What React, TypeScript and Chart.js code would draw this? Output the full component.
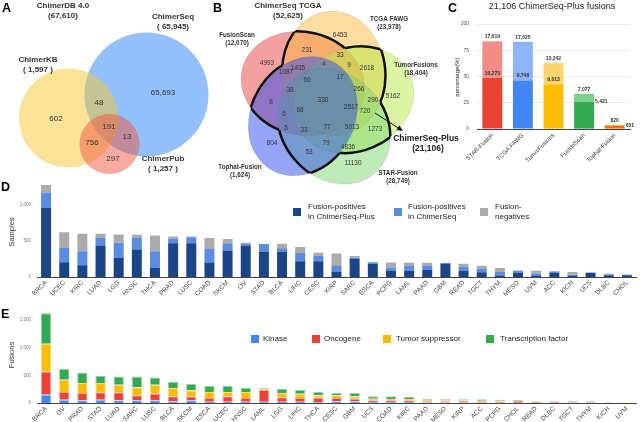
import React, { useEffect, useRef } from "react";
import { Chart, registerables } from "chart.js";

Chart.register(...registerables);

const FONT = "'Liberation Sans', Arial, Helvetica, sans-serif";
Chart.defaults.font.family = FONT;

// ================= DATA =================
const vennAUnion = ["ChimerDB 4.0", "(67,610)"];
const vennASetNames = ["ChimerSeq", "ChimerKB", "ChimerPub"];
const vennASetTotals = ["( 65,945)", "( 1,597 )", "( 1,257 )"];
const vennARegionCounts = ["65,693", "602", "48", "191", "756", "13", "297"];

const vennBUnion = ["ChimerSeq TCGA", "(52,625)"];
const vennBSetNames = ["TumorFusions", "TCGA FAWG", "FusionScan", "Tophat-Fusion", "STAR-Fusion"];
const vennBSetTotals = ["(18,404)", "(23,978)", "(12,070)", "(1,624)", "(28,749)"];
const vennBPlus = ["ChimerSeq-Plus", "(21,106)"];
const vennBRegionCounts = [
  "4993", "231", "1087", "1435", "60", "38", "8",
  "6453", "33", "4", "9", "2618", "17", "266", "5162", "290", "330", "2517",
  "68", "6", "5", "33", "804", "53",
  "720", "77", "5013", "1273", "79", "4836", "11130",
];

const cTitle = "21,106 ChimerSeq-Plus fusions";
const cPlusTotal = 21106;
const cTools = ["STAR-Fusion", "TCGA FAWG", "TumorFusions", "FusionScan", "Tophat-Fusion"];
const cDetected = [17619, 17525, 13242, 7077, 820];
const cCore = [10273, 9748, 9013, 5421, 651];

const dCancers = ["BRCA","UCEC","KIRC","LUAD","LGG","HNSC","THCA","PRAD","LUSC","COAD","SKCM","OV","STAD","BLCA","LIHC","CESC","KIRP","SARC","ESCA","PCPG","LAML","PAAD","GBM","READ","TGCT","THYM","MESO","UVM","ACC","KICH","UCS","DLBC","CHOL"];
const dPlus = [960,206,162,439,263,382,127,469,469,202,368,439,351,351,219,219,75,250,184,83,83,96,189,83,66,22,57,13,57,13,57,26,26];
const dSeqOnly = [215,198,198,105,215,162,233,66,84,188,101,22,110,48,114,75,79,22,22,49,71,58,4,57,48,48,26,35,18,18,4,13,5];
const dNegative = [106,219,241,57,114,44,219,31,13,154,62,17,0,66,84,44,175,22,4,70,43,43,4,44,44,57,9,40,4,39,0,5,4];
const dSeriesNames = [["Fusion-positives", "in ChimerSeq-Plus"], ["Fusion-positives", "in ChimerSeq"], ["Fusion-", "negatives"]];
const dTicks = [0, 500, 1000];

const eCancers = ["BRCA","OV","PRAD","STAD","LUAD","SARC","LUSC","BLCA","SKCM","ESCA","UCEC","HNSC","LAML","LGG","LIHC","THCA","CESC","GBM","UCS","COAD","KIRC","PAAD","MESO","KIRP","ACC","PCPG","CHOL","READ","DLBC","TGCT","THYM","KICH","UVM"];
const eKinase = [150,60,48,60,48,48,48,30,48,24,24,24,24,24,24,18,30,30,18,18,18,12,12,12,6,6,6,6,6,6,6,6,3];
const eOncogene = [420,138,132,132,144,90,120,90,72,66,96,66,216,78,66,78,60,48,30,30,30,18,18,24,18,18,30,18,12,6,6,0,3];
const eTumorSuppressor = [498,222,180,168,138,144,162,150,108,108,78,108,18,78,78,42,48,42,30,24,24,30,18,12,18,18,6,6,6,6,6,6,6];
const eTranscriptionFactor = [552,192,192,132,150,198,132,108,114,114,114,72,12,78,66,60,42,60,42,48,36,18,18,18,24,18,12,12,6,12,12,6,6];
const eSeriesNames = ["Kinase", "Oncogene", "Tumor suppressor", "Transcription factor"];
const eTicks = [0, 500, 1000, 1500];

// ================= LAYOUT / STYLE =================
const vennACircles = [
  { cx: 146.5, cy: 94.5, r: 62, fill: "rgba(40,130,245,0.5)" },
  { cx: 68.5, cy: 118, r: 49.5, fill: "rgba(245,200,45,0.5)" },
  { cx: 109.5, cy: 144, r: 30, fill: "rgba(241,85,65,0.5)" },
];
const vennALabelPos = [[63, 10.5], [173, 21.5], [38, 64.5], [163, 164]];
const vennARegionPos = [[163, 93], [56, 119], [99, 103], [109, 127], [92, 143], [127, 137], [113, 159]];

// five congruent ellipses, each rotated 72 degrees from the previous one
const vennBGeom = { cx: 325.3, cy: 99.8, A: 62.3, B: 51.5, d: 27.8, de: 22.9, th: 0.1 };
const vennBFill = ["rgba(185,235,75,0.5)", "rgba(251,185,65,0.5)", "rgba(235,65,65,0.5)", "rgba(45,75,235,0.5)", "rgba(125,215,115,0.5)"];
const vennBDrawOrder = [2, 1, 0, 4, 3];
const vennBSetLabelPos = [[416, 69], [389, 23.5], [237, 39], [240, 171], [398, 177]];
const vennBRegionPos = [
  [267,63],[307,50],[286,72],[298,68],[307,80],[290,90],[271,102],
  [340,35],[340,55],[324,64],[349,65],[367,68],[340,77],[359,89],[393,96],[373,100],[323,100],[351,107],
  [300,110],[284,114],[286,128],[304,130],[272,143],[309,152],
  [365,111],[327,127],[352,127],[375,129],[326,143],[348,147],[353,163],
];

const cDark = ["#EA4335", "#4285F4", "#FBBC04", "#34A853", "#FF6D01"];
const cLight = ["#F08D87", "#8CB4F6", "#FBD56E", "#7FD08F", "#FDA868"];
const dColors = ["#1C4587", "#5A8DE2", "#ABABAB"];
const eColors = ["#4285F4", "#EA4335", "#FBBC04", "#34A853"];
const eRims = ["#9CBFF9", "#F4A09A", "#FDDB7E", "#8FD3A2"];

// ================= HELPERS =================
function geomEllipses(p: any) {
  const out: any[] = [];
  for (let k = 0; k < 5; k++) {
    const dir = ((p.th + 72 * k) * Math.PI) / 180;
    const ax = dir + (p.de * Math.PI) / 180;
    out.push({ cx: p.cx + p.d * Math.cos(dir), cy: p.cy - p.d * Math.sin(dir), a: p.A, b: p.B, rot: Math.atan2(-Math.sin(ax), Math.cos(ax)) });
  }
  return out;
}
function drawText(ctx: any, s: string, x: number, y: number, size: number, o: any = {}) {
  ctx.save();
  ctx.font = `${o.bold ? "bold " : ""}${size}px ${FONT}`;
  ctx.fillStyle = o.color || "#222";
  ctx.textAlign = o.align || "center";
  ctx.textBaseline = o.baseline || "middle";
  if (o.rot) { ctx.translate(x, y); ctx.rotate(o.rot); ctx.fillText(s, 0, 0); }
  else ctx.fillText(s, x, y);
  ctx.restore();
}
const baseOpts: any = {
  animation: false, responsive: false, events: [],
  plugins: { legend: { display: false }, tooltip: { enabled: false }, title: { display: false } },
};
function vennScales(x0: number, x1: number, y0: number, y1: number) {
  return {
    x: { type: "linear", min: x0, max: x1, display: false },
    y: { type: "linear", min: y0, max: y1, reverse: true, display: false },
  };
}
function pointsDs(pos: number[][]) {
  return { data: pos.map(([x, y]) => ({ x, y })), pointRadius: 0, pointHoverRadius: 0, clip: false };
}

// ================= PANEL A =================
function makeVennA(canvas: HTMLCanvasElement) {
  const plugin = {
    id: "vennA",
    beforeDatasetsDraw(chart: any) {
      const { ctx } = chart;
      const X = chart.scales.x, Y = chart.scales.y;
      vennACircles.forEach((c) => {
        const px = X.getPixelForValue(c.cx), py = Y.getPixelForValue(c.cy);
        const r = X.getPixelForValue(c.cx + c.r) - px;
        ctx.save(); ctx.beginPath(); ctx.arc(px, py, r, 0, Math.PI * 2); ctx.fillStyle = c.fill; ctx.fill(); ctx.restore();
      });
    },
    afterDatasetsDraw(chart: any) {
      const ctx = chart.ctx;
      chart.getDatasetMeta(0).data.forEach((el: any, i: number) => drawText(ctx, vennARegionCounts[i], el.x, el.y, 8, { color: "#333" }));
      chart.getDatasetMeta(1).data.forEach((el: any, i: number) => {
        const pair = i === 0 ? vennAUnion : [vennASetNames[i - 1], vennASetTotals[i - 1]];
        drawText(ctx, pair[0], el.x, el.y - 4.8, 8, { bold: true, color: "#333" });
        drawText(ctx, pair[1], el.x, el.y + 4.8, 8, { bold: true, color: "#333" });
      });
      drawText(ctx, "A", 2, 12, 12.5, { bold: true, color: "#000", align: "left", baseline: "alphabetic" });
    },
  };
  return new Chart(canvas, {
    type: "scatter",
    data: { datasets: [pointsDs(vennARegionPos), pointsDs(vennALabelPos)] as any },
    options: { ...baseOpts, layout: { padding: 0 }, scales: vennScales(0, 215, 0, 180) as any },
    plugins: [plugin],
  });
}

// ================= PANEL B =================
function ellPath(ctx: any, chart: any, e: any) {
  const X = chart.scales.x, Y = chart.scales.y;
  const px = X.getPixelForValue(e.cx), py = Y.getPixelForValue(e.cy);
  const k = X.getPixelForValue(e.cx + 1) - px;
  const rx = e.a * k, ry = e.b * k;
  ctx.moveTo(px + rx * Math.cos(e.rot), py + rx * Math.sin(e.rot));
  ctx.ellipse(px, py, rx, ry, e.rot, 0, Math.PI * 2);
}
function makeVennB(canvas: HTMLCanvasElement) {
  const ells = geomEllipses(vennBGeom);
  const plugin = {
    id: "vennB",
    beforeDatasetsDraw(chart: any) {
      const { ctx } = chart;
      vennBDrawOrder.forEach((i) => { ctx.save(); ctx.beginPath(); ellPath(ctx, chart, ells[i]); ctx.fillStyle = vennBFill[i]; ctx.fill(); ctx.restore(); });
      vennBDrawOrder.forEach((i) => { ctx.save(); ctx.beginPath(); ellPath(ctx, chart, ells[i]); ctx.strokeStyle = "rgba(90,90,90,0.22)"; ctx.lineWidth = 0.6; ctx.stroke(); ctx.restore(); });
      // outline of the area shared by at least two tools (ChimerSeq-Plus)
      const n = ells.length;
      for (let i = 0; i < n; i++)
        for (let j = 0; j < n; j++) {
          if (i === j) continue;
          ctx.save();
          ctx.beginPath(); ellPath(ctx, chart, ells[j]); ctx.clip();
          for (let k = 0; k < n; k++) {
            if (k === i || k === j) continue;
            ctx.beginPath(); ctx.rect(-10, -10, chart.width + 20, chart.height + 20); ellPath(ctx, chart, ells[k]); ctx.clip("evenodd");
          }
          ctx.beginPath(); ellPath(ctx, chart, ells[i]);
          ctx.lineWidth = 2.5; ctx.strokeStyle = "#111"; ctx.stroke();
          ctx.restore();
        }
    },
    afterDatasetsDraw(chart: any) {
      const ctx = chart.ctx;
      const X = chart.scales.x, Y = chart.scales.y;
      chart.getDatasetMeta(0).data.forEach((el: any, i: number) => drawText(ctx, vennBRegionCounts[i], el.x, el.y, 6.5, { color: "#333" }));
      chart.getDatasetMeta(1).data.forEach((el: any, i: number) => {
        drawText(ctx, vennBSetNames[i], el.x, el.y - 4.2, 6.3, { bold: true, color: "#333" });
        drawText(ctx, vennBSetTotals[i], el.x, el.y + 4.2, 6.3, { bold: true, color: "#333" });
      });
      drawText(ctx, vennBUnion[0], X.getPixelForValue(288), Y.getPixelForValue(6), 8, { bold: true, color: "#333" });
      drawText(ctx, vennBUnion[1], X.getPixelForValue(288), Y.getPixelForValue(15.5), 8, { bold: true, color: "#333" });
      drawText(ctx, vennBPlus[0], X.getPixelForValue(426), Y.getPixelForValue(139), 8.5, { bold: true, color: "#222" });
      drawText(ctx, vennBPlus[1], X.getPixelForValue(428), Y.getPixelForValue(149), 8.5, { bold: true, color: "#222" });
      const x0 = X.getPixelForValue(375), y0 = Y.getPixelForValue(113);
      const x1 = X.getPixelForValue(403), y1 = Y.getPixelForValue(131);
      const ang = Math.atan2(y1 - y0, x1 - x0);
      ctx.save();
      ctx.strokeStyle = "#111"; ctx.fillStyle = "#111"; ctx.lineWidth = 1;
      ctx.beginPath(); ctx.moveTo(x0, y0); ctx.lineTo(x1 - 4 * Math.cos(ang), y1 - 4 * Math.sin(ang)); ctx.stroke();
      ctx.beginPath(); ctx.moveTo(x1, y1);
      ctx.lineTo(x1 - 6 * Math.cos(ang) + 2.8 * Math.sin(ang), y1 - 6 * Math.sin(ang) - 2.8 * Math.cos(ang));
      ctx.lineTo(x1 - 6 * Math.cos(ang) - 2.8 * Math.sin(ang), y1 - 6 * Math.sin(ang) + 2.8 * Math.cos(ang));
      ctx.closePath(); ctx.fill(); ctx.restore();
      drawText(ctx, "B", 3, 12, 12.5, { bold: true, color: "#000", align: "left", baseline: "alphabetic" });
    },
  };
  return new Chart(canvas, {
    type: "scatter",
    data: { datasets: [pointsDs(vennBRegionPos), pointsDs(vennBSetLabelPos)] as any },
    options: { ...baseOpts, layout: { padding: 0 }, scales: vennScales(210, 460, 0, 190) as any },
    plugins: [plugin],
  });
}

// ================= PANEL C =================
function makeBarC(canvas: HTMLCanvasElement) {
  const corePct = cCore.map((v) => (v / cPlusTotal) * 100);
  const restPct = cDetected.map((v, i) => ((v - cCore[i]) / cPlusTotal) * 100);
  const fmt = (v: number) => v.toLocaleString("en-US");
  const plugin = {
    id: "cDecor",
    afterDatasetsDraw(chart: any) {
      const ctx = chart.ctx;
      const core = chart.getDatasetMeta(0).data;
      const rest = chart.getDatasetMeta(1).data;
      core.forEach((el: any, i: number) => {
        const top = rest[i];
        drawText(ctx, fmt(cDetected[i]), top.x, top.y - 4.5, 5, { bold: true, color: "#333" });
        if (top.base - top.y > 10) drawText(ctx, fmt(cCore[i]), el.x, el.y - 4.5, 5, { bold: true, color: "#333" });
        else drawText(ctx, fmt(cCore[i]), el.x + el.width / 2 + 1, el.y, 5, { bold: true, color: "#333", align: "left" });
      });
      drawText(ctx, cTitle, 122, 7, 9, { color: "#222" });
      drawText(ctx, "percentage(%)", 27, 77, 6, { color: "#222", rot: -Math.PI / 2 });
      drawText(ctx, "C", 18, 12, 12.5, { bold: true, color: "#000", align: "left", baseline: "alphabetic" });
    },
  };
  return new Chart(canvas, {
    type: "bar",
    data: {
      labels: cTools,
      datasets: [
        { data: corePct, backgroundColor: cDark, categoryPercentage: 1, barPercentage: 0.65 },
        { data: restPct, backgroundColor: cLight, categoryPercentage: 1, barPercentage: 0.65 },
      ],
    },
    options: {
      ...baseOpts,
      layout: { padding: { left: 0, right: 12, top: 24, bottom: 0 } },
      scales: {
        x: { stacked: true, afterFit: (s: any) => { s.height = 43; }, grid: { display: false, drawTicks: false }, border: { display: true, color: "#444", width: 1 },
          ticks: { autoSkip: false, minRotation: 45, maxRotation: 45, font: { size: 6 }, color: "#333", padding: 3 } },
        y: { stacked: true, min: 0, max: 100, afterFit: (s: any) => { s.width = 47; },
          ticks: { stepSize: 25, font: { size: 5 }, color: "#555", padding: 8 }, grid: { color: "#e4e4e4", drawTicks: false, lineWidth: 0.8 }, border: { display: false } },
      } as any,
    },
    plugins: [plugin],
  });
}

// ================= PANEL D =================
function makeBarD(canvas: HTMLCanvasElement) {
  const plugin = {
    id: "dDecor",
    afterDatasetsDraw(chart: any) {
      const ctx = chart.ctx;
      drawText(ctx, "D", 1, 16, 12.5, { bold: true, color: "#000", align: "left", baseline: "alphabetic" });
      drawText(ctx, "Samples", 12, 57, 7.5, { color: "#333", rot: -Math.PI / 2 });
      const sq = [293, 394, 480], tx = [308, 408, 495];
      dSeriesNames.forEach((lines, i) => {
        ctx.save(); ctx.fillStyle = dColors[i]; ctx.fillRect(sq[i], 33, 8, 8); ctx.restore();
        drawText(ctx, lines[0], tx[i], 32, 8, { color: "#222", align: "left" });
        drawText(ctx, lines[1], tx[i], 41.5, 8, { color: "#222", align: "left" });
      });
    },
  };
  const ds = (data: number[], i: number) => ({ data, backgroundColor: dColors[i], categoryPercentage: 1, barPercentage: 0.55 });
  return new Chart(canvas, {
    type: "bar",
    data: { labels: dCancers, datasets: [ds(dPlus, 0), ds(dSeqOnly, 1), ds(dNegative, 2)] },
    options: {
      ...baseOpts,
      layout: { padding: { left: 0, right: 6, top: 3, bottom: 0 } },
      scales: {
        x: { stacked: true, afterFit: (s: any) => { s.height = 23; }, grid: { display: false, drawTicks: false }, border: { display: true, color: "#444", width: 1 },
          ticks: { autoSkip: false, minRotation: 45, maxRotation: 45, font: { size: 6.5 }, color: "#444", padding: 2 } },
        y: { stacked: true, min: 0, max: 1300, afterFit: (s: any) => { s.width = 37; },
          afterBuildTicks: (s: any) => { s.ticks = dTicks.map((v) => ({ value: v })); },
          ticks: { font: { size: 4.5 }, color: "#777", padding: 6, callback: (v: any) => Number(v).toLocaleString("en-US") },
          grid: { display: false, drawTicks: false }, border: { display: false } },
      } as any,
    },
    plugins: [plugin],
  });
}

// ================= PANEL E =================
function makeBarE(canvas: HTMLCanvasElement) {
  const plugin = {
    id: "eDecor",
    afterDatasetsDraw(chart: any) {
      const ctx = chart.ctx;
      drawText(ctx, "E", 1, 18, 12.5, { bold: true, color: "#000", align: "left", baseline: "alphabetic" });
      drawText(ctx, "Fusions", 12, 55, 7.5, { color: "#333", rot: -Math.PI / 2 });
      const sq = [251, 312, 383, 486], tx = [263, 324, 396, 500];
      eSeriesNames.forEach((name, i) => {
        ctx.save(); ctx.fillStyle = eColors[i]; ctx.fillRect(sq[i], 35, 8, 8); ctx.restore();
        drawText(ctx, name, tx[i], 39, 8, { color: "#222", align: "left" });
      });
    },
  };
  const ds = (data: number[], i: number) => ({ data, backgroundColor: eColors[i], borderColor: eRims[i], borderWidth: 1, categoryPercentage: 1, barPercentage: 0.57 });
  return new Chart(canvas, {
    type: "bar",
    data: { labels: eCancers, datasets: [ds(eKinase, 0), ds(eOncogene, 1), ds(eTumorSuppressor, 2), ds(eTranscriptionFactor, 3)] },
    options: {
      ...baseOpts,
      layout: { padding: { left: 0, right: 6, top: 11, bottom: 0 } },
      scales: {
        x: { stacked: true, afterFit: (s: any) => { s.height = 19; }, grid: { display: false, drawTicks: false }, border: { display: true, color: "#444", width: 1 },
          ticks: { autoSkip: false, minRotation: 45, maxRotation: 45, font: { size: 6.5 }, color: "#444", padding: 2 } },
        y: { stacked: true, min: 0, max: 1660, afterFit: (s: any) => { s.width = 37; },
          afterBuildTicks: (s: any) => { s.ticks = eTicks.map((v) => ({ value: v })); },
          ticks: { font: { size: 4.5 }, color: "#777", padding: 6, callback: (v: any) => Number(v).toLocaleString("en-US") },
          grid: { display: false, drawTicks: false }, border: { display: false } },
      } as any,
    },
    plugins: [plugin],
  });
}

function ChartBox(props: { left: number; top: number; width: number; height: number; make: (c: HTMLCanvasElement) => any }) {
  const ref = useRef<HTMLCanvasElement | null>(null);
  useEffect(() => {
    if (!ref.current) return;
    const chart = props.make(ref.current);
    return () => chart.destroy();
  }, []);
  return <canvas ref={ref} width={props.width} height={props.height} style={{ position: "absolute", left: props.left, top: props.top, width: props.width, height: props.height }} />;
}

export default function App() {
  return (
    <div style={{ position: "absolute", left: 0, top: 0, width: 642, height: 422, background: "#fff", overflow: "hidden" }}>
      <ChartBox left={0} top={0} width={215} height={180} make={makeVennA} />
      <ChartBox left={210} top={0} width={250} height={190} make={makeVennB} />
      <ChartBox left={430} top={0} width={212} height={172} make={makeBarC} />
      <ChartBox left={0} top={175} width={642} height={125} make={makeBarD} />
      <ChartBox left={0} top={300} width={642} height={122} make={makeBarE} />
    </div>
  );
}
